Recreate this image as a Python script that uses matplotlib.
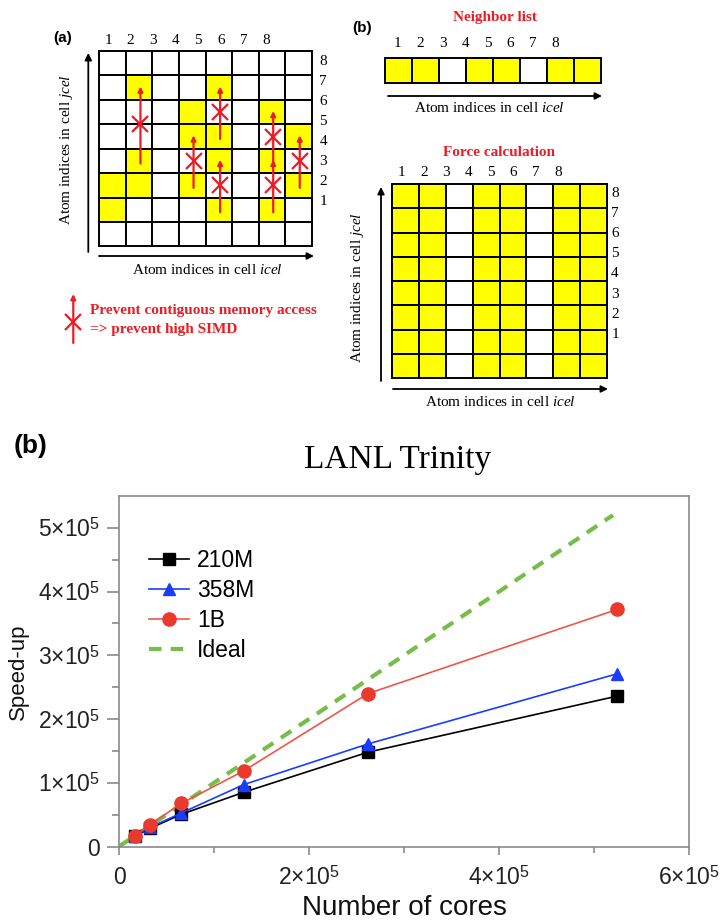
import matplotlib
matplotlib.use('Agg')
import matplotlib.pyplot as plt
from matplotlib.patches import Rectangle
from matplotlib.ticker import FixedLocator, FixedFormatter

plt.rcParams['mathtext.fontset'] = 'custom'
plt.rcParams['mathtext.rm'] = 'Liberation Sans'
plt.rcParams['mathtext.it'] = 'Liberation Serif:italic'
plt.rcParams['mathtext.bf'] = 'Liberation Sans:bold'

# ---------------- data ----------------
# panel (a): pair mask of cell icel (columns) x jcel (rows, top row first)
grid_a_rows = ["........",
               ".Y..Y...",
               "...Y..Y.",
               "...YY..Y",
               ".Y..Y.Y.",
               "YY.Y...Y",
               "Y...Y.Y.",
               "........"]
# non-contiguous jumps: column, from row, to row (rows counted from top)
jump_cols = [1, 3, 4, 4, 6, 6, 7]
jump_from = [4, 5, 3, 6, 4, 6, 5]
jump_to = [1, 3, 1, 4, 2, 4, 3]
# panel (b): neighbor list and force calculation masks
neighbor_row = "YY.YY.YY"
force_rows = ["YY.YY.YY"] * 8
atom_labels = ['1', '2', '3', '4', '5', '6', '7', '8']

# LANL Trinity scaling
cores = [16384, 32768, 65536, 131072, 262144, 524288]
speed_210M = [16500, 28500, 50500, 85000, 148000, 236000]
speed_358M = [16500, 30000, 52500, 97000, 161000, 271000]
speed_1B = [17000, 34500, 67500, 118500, 240000, 372000]
ideal_x = [0, 520000]
ideal_y = [0, 520000]
series_names = ['210M', '358M', '1B', 'Ideal']
xtick_vals = [0, 200000, 400000, 600000]
xtick_labels = ['0', r'$2{\times}10^{5}$', r'$4{\times}10^{5}$', r'$6{\times}10^{5}$']
ytick_vals = [0, 100000, 200000, 300000, 400000, 500000]
ytick_labels = ['0', r'$1{\times}10^{5}$', r'$2{\times}10^{5}$', r'$3{\times}10^{5}$',
                r'$4{\times}10^{5}$', r'$5{\times}10^{5}$']

# ---------------- figure ----------------
W, H = 724, 921
fig = plt.figure(figsize=(W / 100, H / 100), dpi=100)

RED = '#ec1c24'
YEL = '#ffff00'
SERIF = 'Liberation Serif'
SANS = 'Liberation Sans'


def px_axes(x0, y0, x1, y1, **kw):
    return fig.add_axes([x0 / W, 1 - y1 / H, (x1 - x0) / W, (y1 - y0) / H], **kw)


# overlay in pixel units for annotations
ov = px_axes(0, 0, W, H)
ov.set_xlim(0, W)
ov.set_ylim(H, 0)
ov.axis('off')


def arrow(x0, y0, x1, y1, color='black', lw=1.3, ms=10, ax=ov):
    ax.annotate('', xy=(x1, y1), xytext=(x0, y0),
                arrowprops=dict(arrowstyle='-|>', color=color, lw=lw,
                                mutation_scale=ms, shrinkA=0, shrinkB=0),
                annotation_clip=False)


def draw_grid(ax, rows):
    n_r = len(rows)
    n_c = len(rows[0])
    for r, row in enumerate(rows):
        for c, ch in enumerate(row):
            ax.add_patch(Rectangle((c, r), 1, 1, facecolor=YEL if ch == 'Y' else 'white',
                                   edgecolor='black', lw=1.4, clip_on=False))
    ax.set_xlim(0, n_c)
    ax.set_ylim(n_r, 0)
    ax.axis('off')


# ----- panel (a) -----
ov.text(63, 38, '(a)', fontsize=11, fontweight='bold', family=SANS, ha='center', va='center')
axa = px_axes(99.3, 51, 311.7, 246.5)
draw_grid(axa, grid_a_rows)
for i, lab in enumerate(atom_labels):
    axa.text(0.33 + 0.85 * i, -0.45, lab, ha='center', va='center', fontsize=11, family=SERIF)
for k, lab in enumerate(atom_labels[::-1]):
    axa.text(8.43, 0.44 + 0.816 * k, lab, ha='center', va='center', fontsize=11, family=SERIF)
for c, fr, to in zip(jump_cols, jump_from, jump_to):
    x = c + 0.55
    arrow(x, fr + 0.6, x, to + 0.45, color=RED, lw=1.6, ms=7, ax=axa)
    axa.plot([x], [(fr + to) / 2 + 0.5], marker='x', ms=12, mew=1.6, color=RED, clip_on=False)

arrow(88.3, 252, 88.3, 53)
ov.text(66.7, 150, 'Atom indices in cell $jcel$', rotation=90, fontsize=11, family=SERIF,
        ha='center', va='center')
arrow(99, 256, 314, 256)
ov.text(207.5, 270, 'Atom indices in cell $icel$', fontsize=11, family=SERIF, ha='center', va='center')
arrow(73.3, 343, 73.3, 294, color=RED, lw=1.6, ms=7)
ov.plot([73.3], [321.7], marker='x', ms=12, mew=1.6, color=RED)
ov.text(90, 310, 'Prevent contiguous memory access', color=RED, fontsize=11, fontweight='bold',
        family=SERIF, ha='left', va='center')
ov.text(90, 329, '=> prevent high SIMD', color=RED, fontsize=11, fontweight='bold',
        family=SERIF, ha='left', va='center')

# ----- panel (b) top -----
ov.text(361.7, 28, '(b)', fontsize=11, fontweight='bold', family=SANS, ha='center', va='center')
ov.text(495, 17, 'Neighbor list', color=RED, fontsize=11, fontweight='bold', family=SERIF,
        ha='center', va='center')
axn = px_axes(385, 58.3, 601, 83.3)
draw_grid(axn, [neighbor_row])
for i, lab in enumerate(atom_labels):
    axn.text(0.47 + 0.833 * i, -0.61, lab, ha='center', va='center', fontsize=11, family=SERIF)
arrow(388, 96, 602, 96)
ov.text(489, 108, 'Atom indices in cell $icel$', fontsize=11, family=SERIF, ha='center', va='center')

ov.text(499, 152, 'Force calculation', color=RED, fontsize=11, fontweight='bold', family=SERIF,
        ha='center', va='center')
axf = px_axes(392.3, 184, 606.7, 378.3)
draw_grid(axf, force_rows)
for i, lab in enumerate(atom_labels):
    axf.text(0.35 + 0.835 * i, -0.47, lab, ha='center', va='center', fontsize=11, family=SERIF)
for k, lab in enumerate(atom_labels[::-1]):
    axf.text(8.31, 0.38 + 0.83 * k, lab, ha='center', va='center', fontsize=11, family=SERIF)
arrow(381, 381, 381, 187)
ov.text(358, 288, 'Atom indices in cell $jcel$', rotation=90, fontsize=11, family=SERIF,
        ha='center', va='center')
arrow(393, 389, 608, 389)
ov.text(500, 402, 'Atom indices in cell $icel$', fontsize=11, family=SERIF, ha='center', va='center')

# ----- panel (b) bottom: LANL Trinity -----
ov.text(31, 446, '(b)', fontsize=19, fontweight='bold', family=SANS, ha='center', va='center')
ov.text(398, 460, 'LANL Trinity', fontsize=24, family=SERIF, ha='center', va='center')

ax = px_axes(119, 496, 689, 846.5)
ax.plot(cores, speed_210M, color='black', lw=1.2, marker='s', ms=8, label=series_names[0], zorder=3)
ax.plot(cores, speed_358M, color='#1a3cff', lw=1.2, marker='^', ms=9, label=series_names[1], zorder=4)
ax.plot(cores, speed_1B, color='#f0554a', lw=1.2, marker='o', ms=9.5, mfc='#ea3a2e', mec='#ea3a2e',
        label=series_names[2], zorder=5)
ax.plot(ideal_x, ideal_y, color='#78bc4c', lw=3, ls=(0, (3, 2.2)), label=series_names[3], zorder=2)

ax.set_xlim(0, 600000)
ax.set_ylim(0, 550000)
ax.xaxis.set_major_locator(FixedLocator(xtick_vals))
ax.xaxis.set_major_formatter(FixedFormatter(xtick_labels))
ax.xaxis.set_minor_locator(FixedLocator([100000, 300000, 500000]))
ax.yaxis.set_major_locator(FixedLocator(ytick_vals))
ax.yaxis.set_major_formatter(FixedFormatter(ytick_labels))
ax.yaxis.set_minor_locator(FixedLocator([50000, 150000, 250000, 350000, 450000]))
ax.tick_params(axis='both', which='both', direction='out', color='#8a8a8a', width=1.2,
               labelcolor='#222222', labelsize=16.5)
ax.tick_params(axis='x', which='major', length=6, pad=8)
ax.tick_params(axis='x', which='minor', length=4)
ax.tick_params(axis='y', which='major', length=9, pad=5)
ax.tick_params(axis='y', which='minor', length=5)
for lab in ax.get_xticklabels() + ax.get_yticklabels():
    lab.set_family(SANS)
for sp in ax.spines.values():
    sp.set_color('#8a8a8a')
    sp.set_linewidth(1.2)
ax.set_xlabel('Number of cores', fontsize=20, family=SANS, labelpad=4, color='#111111')
ax.set_ylabel('Speed-up', fontsize=16, family=SANS, labelpad=6, color='#111111')
leg = ax.legend(loc='upper left', bbox_to_anchor=(0.053, 0.848), frameon=False,
                prop={'family': SANS, 'size': 16.5}, handlelength=1.75, handletextpad=0.35,
                labelspacing=0.3, borderpad=0, borderaxespad=0)

fig.savefig('out.png', dpi=100)
